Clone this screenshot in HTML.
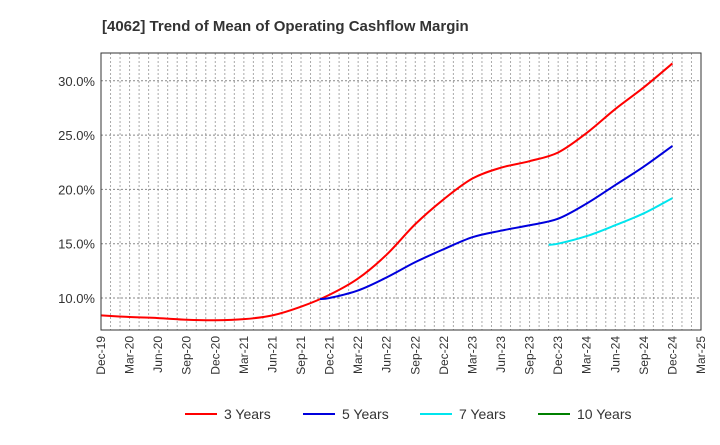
<!DOCTYPE html>
<html><head><meta charset="utf-8"><style>
body{margin:0;background:#fff;font-family:"Liberation Sans",sans-serif;}
svg text{font-family:"Liberation Sans",sans-serif;}
</style></head><body>
<svg width="720" height="440" id="c">
<text x="102" y="31" font-size="15" font-weight="bold" fill="#333">[4062]  Trend of Mean of Operating Cashflow Margin</text>
<g id="grid"></g><g id="series"></g><g id="axes"></g>
<g font-size="14" fill="#333">
<g><line x1="185" y1="414" x2="217" y2="414" stroke="#ff0000" stroke-width="2"/><text x="224" y="419">3 Years</text></g>
<g><line x1="303" y1="414" x2="335" y2="414" stroke="#0000dd" stroke-width="2"/><text x="342" y="419">5 Years</text></g>
<g><line x1="420" y1="414" x2="452" y2="414" stroke="#00e5ee" stroke-width="2"/><text x="459" y="419">7 Years</text></g>
<g><line x1="538" y1="414" x2="570" y2="414" stroke="#008000" stroke-width="2"/><text x="577" y="419">10 Years</text></g>
</g>
</svg>
<script>
const xLabels=["Dec-19","Mar-20","Jun-20","Sep-20","Dec-20","Mar-21","Jun-21","Sep-21","Dec-21","Mar-22","Jun-22","Sep-22","Dec-22","Mar-23","Jun-23","Sep-23","Dec-23","Mar-24","Jun-24","Sep-24","Dec-24","Mar-25"];
const yTicks=[10,15,20,25,30];
const m3=[0,3,6,9,12,15,18,21,24,27,30,33,36,39,42,45,48,51,54,57,60];
const v3=[8.4,8.25,8.15,8.0,7.95,8.05,8.4,9.2,10.3,11.8,14.0,16.8,19.1,21.0,22.0,22.6,23.4,25.2,27.4,29.4,31.6];
const m5=[23,24,27,30,33,36,39,42,45,48,51,54,57,60];
const v5=[9.9,10.0,10.7,11.9,13.3,14.5,15.6,16.2,16.7,17.3,18.7,20.4,22.1,24.0];
const m7=[47,48,51,54,57,60];
const v7=[14.9,15.0,15.7,16.7,17.8,19.2];
const L=101,R=701,T=53,B=330;
const X=m=>L+(R-L)*m/63;
const Y=v=>298-(v-10)*54.3/5;
const NS="http://www.w3.org/2000/svg";
function mk(p,t,a){const e=document.createElementNS(NS,t);for(const k in a)e.setAttribute(k,a[k]);p.appendChild(e);return e;}
const g=document.getElementById('grid'),ax=document.getElementById('axes'),s=document.getElementById('series');
for(let m=1;m<63;m++){const l=mk(g,'line',{x1:X(m),x2:X(m),y1:T,y2:B,stroke:'#aaa','stroke-dasharray':'2,2','stroke-width':1});

}
yTicks.forEach(v=>{const l=mk(g,'line',{x1:L,x2:R,y1:Y(v),y2:Y(v),stroke:'#888','stroke-dasharray':'2,2'});


const t=mk(ax,'text',{x:L-6,y:Y(v)+5,'text-anchor':'end','font-size':13,fill:'#333'});t.textContent=v.toFixed(1)+'%';

});
xLabels.forEach((lab,i)=>{const x=X(i*3);const t=mk(ax,'text',{transform:`translate(${x+4},${B+6}) rotate(-90)`,'text-anchor':'end','font-size':12,fill:'#333'});t.textContent=lab;

});
const f=mk(ax,'rect',{x:L,y:T,width:R-L,height:B-T,fill:'none',stroke:'#333'});


function line(ms,vs,c,n){
const P=ms.map((m,i)=>[X(m),Y(vs[i])]);
let d='M'+P[0][0]+','+P[0][1];
for(let i=0;i<P.length-1;i++){const p0=P[Math.max(0,i-1)],p1=P[i],p2=P[i+1],p3=P[Math.min(P.length-1,i+2)];
const c1x=p1[0]+(p2[0]-p0[0])/6,c1y=p1[1]+(p2[1]-p0[1])/6,c2x=p2[0]-(p3[0]-p1[0])/6,c2y=p2[1]-(p3[1]-p1[1])/6;
d+=` C${c1x},${c1y} ${c2x},${c2y} ${p2[0]},${p2[1]}`;}
const p=mk(s,'path',{d:d,fill:'none',stroke:c,'stroke-width':2,'stroke-linejoin':'round'});

}
line(m3,v3,'#ff0000','series-3-years');
line(m5,v5,'#0000dd','series-5-years');
line(m7,v7,'#00e5ee','series-7-years');
</script>
</body></html>
